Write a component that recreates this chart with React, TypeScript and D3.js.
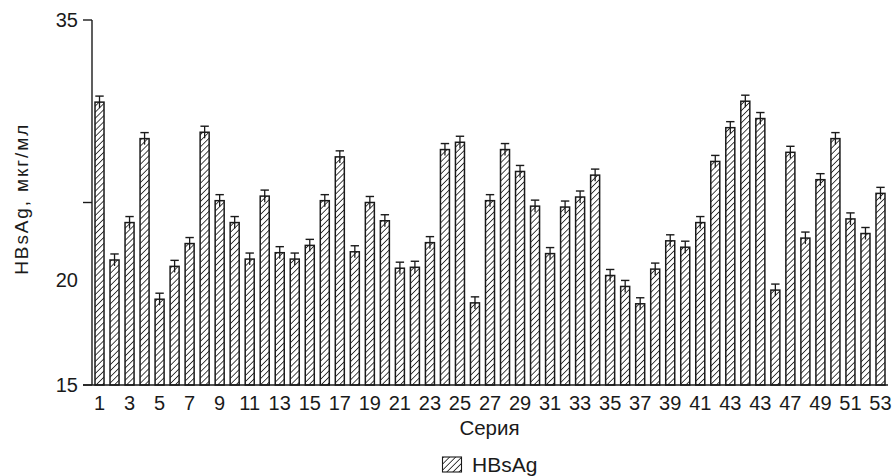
import React from 'react'
import * as d3 from 'd3'

// series 1..53 (the source labels the 45th tick as "43", kept as printed)
const SERIES = d3.range(1, 54)
const TICK_LABELS = ['1', '3', '5', '7', '9', '11', '13', '15', '17', '19', '21', '23', '25', '27',
  '29', '31', '33', '35', '37', '39', '41', '43', '43', '47', '49', '51', '53']
const VALUES = [
  30.5, 21.85, 23.9, 28.5, 19.7, 21.5, 22.75, 28.85, 25.1, 23.9,
  21.9, 25.35, 22.25, 21.9, 22.65, 25.1, 27.5, 22.3, 25.0, 24.0,
  21.4, 21.45, 22.8, 27.9, 28.3, 19.5, 25.1, 27.9, 26.7, 24.8,
  22.2, 24.75, 25.3, 26.5, 21.0, 20.4, 19.45, 21.35, 22.9, 22.55,
  23.9, 27.25, 29.1, 30.55, 29.6, 20.2, 27.75, 23.05, 26.25, 28.5,
  24.1, 23.3, 25.5,
]
const ERRORS = VALUES.map(() => 0.33)
const Y_TICKS = [15, 25, 35]
// the printed axis carries its "20" label slightly off the 20 mark
const Y_LABELS = [
  { value: 15, text: '15' },
  { value: 20.75, text: '20' },
  { value: 35, text: '35' },
]

const W = 895
const H = 476
const INK = '#1a1a1a'
const FONT = '"Liberation Sans", Arial, Helvetica, sans-serif'

export default function App() {
  const x = d3.scaleBand<number>()
    .domain(SERIES)
    .range([92, 888])
    .paddingInner(0.4)
    .paddingOuter(0.2)
  const y = d3.scaleLinear().domain([15, 35]).range([385, 20])
  const bw = x.bandwidth()
  const oddSeries = SERIES.filter(s => s % 2 === 1)

  return (
    <svg width={W} height={H} style={{ position: 'absolute', left: 0, top: 0, background: '#fff' }}>
      <defs>
        <pattern id="hatch" patternUnits="userSpaceOnUse" width="4.3" height="4.3"
          patternTransform="rotate(45)">
          <rect width="4.3" height="4.3" fill="#fff" />
          <line x1="0" y1="0" x2="0" y2="4.3" stroke={INK} strokeWidth="1.6" />
        </pattern>
      </defs>

      {/* bars */}
      {SERIES.map((s, i) => {
        const v = VALUES[i]
        const x0 = x(s)!
        const cx = x0 + bw / 2
        return (
          <g key={s}>
            <rect x={x0} y={y(v)} width={bw} height={y(15) - y(v)}
              fill="url(#hatch)" stroke={INK} strokeWidth={1.5} />
            <line x1={cx} x2={cx} y1={y(v + ERRORS[i])} y2={y(v - ERRORS[i])}
              stroke={INK} strokeWidth={1.3} />
            <line x1={cx - 4.2} x2={cx + 4.2} y1={y(v + ERRORS[i])} y2={y(v + ERRORS[i])}
              stroke={INK} strokeWidth={1.4} />
          </g>
        )
      })}

      {/* y axis */}
      <line x1={92} x2={92} y1={y(35)} y2={y(15)} stroke={INK} strokeWidth={1.4} />
      {Y_TICKS.map(t => (
        <line key={t} x1={83} x2={92} y1={y(t)} y2={y(t)} stroke={INK} strokeWidth={1.4} />
      ))}
      {Y_LABELS.map(l => (
        <text key={l.text} x={78} y={y(l.value)} dy="0.35em" textAnchor="end"
          fontFamily={FONT} fontSize={20} fill={INK}>{l.text}</text>
      ))}
      <text transform={`translate(21,${y(25.15)}) rotate(-90)`} textAnchor="middle" dy="0.35em"
        fontFamily={FONT} fontSize={19} fill={INK} textLength={150} lengthAdjust="spacing">HBsAg, мкг/мл</text>

      {/* x axis */}
      <line x1={83} x2={888} y1={y(15)} y2={y(15)} stroke={INK} strokeWidth={1.4} />
      {oddSeries.map((s, i) => (
        <text key={s} x={x(s)! + bw / 2} y={403} dy="0.35em" textAnchor="middle"
          fontFamily={FONT} fontSize={20} fill={INK}>{TICK_LABELS[i]}</text>
      ))}
      <text x={489.5} y={428} dy="0.35em" textAnchor="middle"
        fontFamily={FONT} fontSize={20.5} fill={INK}>Серия</text>

      {/* legend */}
      <rect x={442.5} y={457} width={19} height={15} fill="url(#hatch)" stroke={INK} strokeWidth={1.1} />
      <text x={472} y={464.5} dy="0.35em" fontFamily={FONT} fontSize={21} fill={INK}>HBsAg</text>
    </svg>
  )
}
